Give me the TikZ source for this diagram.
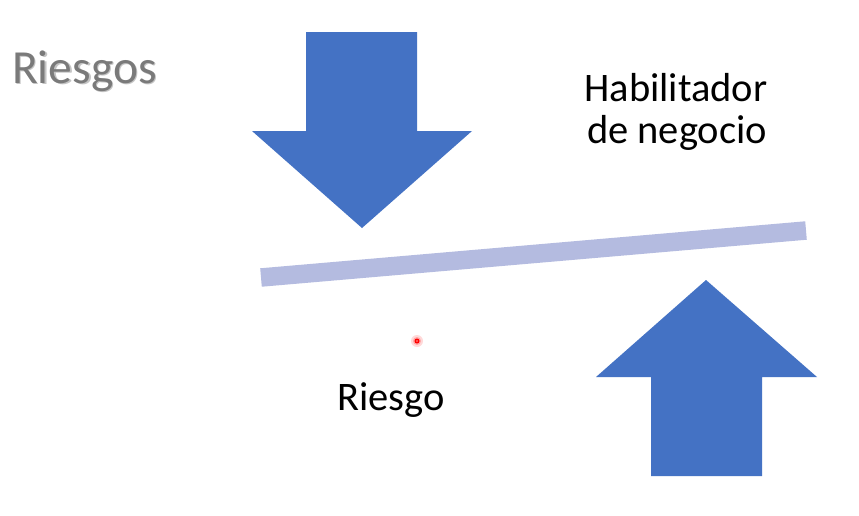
\documentclass[tikz,border=0pt]{standalone}
\usepackage{fontspec}
\setmainfont{Carlito}
\definecolor{arrowblue}{HTML}{4472C4}
\definecolor{barcol}{HTML}{B4BBE0}
\definecolor{titlegray}{HTML}{7A7A7A}
\definecolor{shadowgray}{HTML}{C4C4C4}
\tikzset{
  bigarrow/.style={fill=arrowblue},
  labeltext/.style={anchor=base, inner sep=0pt, font=\fontsize{40.5}{48}\selectfont},
  titletext/.style={anchor=base west, inner sep=0pt, font=\fontsize{47.5}{56}\selectfont},
}
\begin{document}
\begin{tikzpicture}[x=1pt,y=-1pt]
\useasboundingbox (0,0) rectangle (859,515);
\fill[white] (0,0) rectangle (859,515);
% down arrow
\fill[bigarrow] (306,32) -- (417,32) -- (417,131) -- (472,131) -- (362,228) -- (252,131) -- (306,131) -- cycle;
% up arrow
\fill[bigarrow] (651,476) -- (762,476) -- (762,377) -- (817,377) -- (706,280) -- (596,377) -- (651,377) -- cycle;
% bar
\coordinate (barL) at (261,277.5);
\coordinate (barR) at (806,230.5);
\draw[barcol, line width=18.5pt] (barL) -- (barR);
% title with shadow
\node[titletext, text=shadowgray] (titleshadow) at (13.5,84.5) {Riesgos};
\node[titletext, text=titlegray] (title) at (12,83) {Riesgos};
% labels
\node[labeltext] (hab) at (676,101) {Habilitador};
\node[labeltext] (neg) at (677,143) {de negocio};
\node[labeltext] (riesgo) at (391,410) {Riesgo};
% red pointer dot
\fill[red!15] (417,341) circle (6);
\fill[red!35] (417,341) circle (4);
\fill[red] (417,341) circle (2.5);
\fill[red!40!white] (417,341) circle (0.8);
\end{tikzpicture}
\end{document}
